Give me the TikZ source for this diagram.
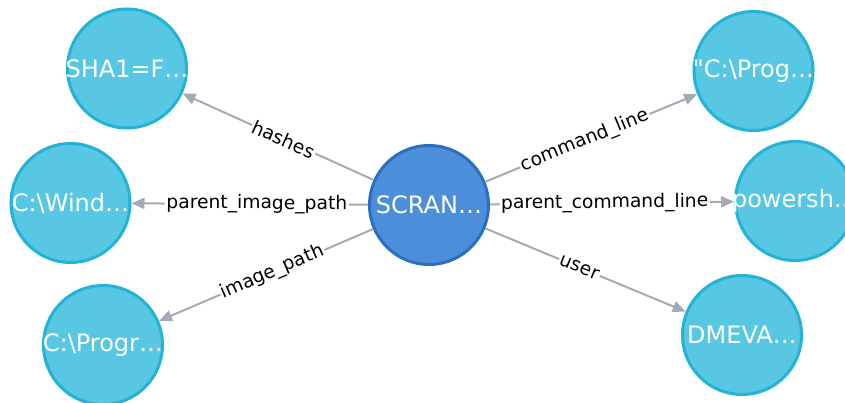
\documentclass[tikz,border=0pt]{standalone}
\usepackage{fontspec}
\setmainfont{DejaVu Sans}[Ligatures=TeXOff]
\usetikzlibrary{arrows.meta}
\definecolor{hubfill}{HTML}{4C8EDA}
\definecolor{hubline}{HTML}{2870C2}
\definecolor{leaffill}{HTML}{57C7E3}
\definecolor{leafline}{HTML}{23B3D7}
\definecolor{edgecol}{HTML}{A5ABB6}
\newcommand{\ctrtext}[1]{\makebox[0pt][c]{#1}}
\tikzset{
  basenode/.style={circle, line width=3pt, minimum size=119pt, inner sep=0pt, text=white, font=\fontsize{24}{25}\selectfont},
  hubnode/.style={basenode, fill=hubfill, draw=hubline},
  leafnode/.style={basenode, fill=leaffill, draw=leafline},
  edgeline/.style={draw=edgecol, line width=2pt, -{Triangle[length=13pt,width=11pt]}},
  lbl/.style={sloped, pos=0.47, fill=white, inner sep=1.5pt, text=black, font=\fontsize{18.7}{19}\selectfont}
}
\begin{document}
\begin{tikzpicture}[x=1pt,y=-1pt]
\useasboundingbox (0,0) rectangle (845,403);
\node[hubnode] (c) at (429,205) {\ctrtext{SCRAN…}};
\node[leafnode] (sha) at (127,68.5) {\ctrtext{SHA1=F…}};
\node[leafnode] (win) at (70.5,203) {\ctrtext{C:\textbackslash Wind…}};
\node[leafnode] (prg) at (103,345) {\ctrtext{C:\textbackslash Progr…}};
\node[leafnode] (cmd) at (753.5,71) {\ctrtext{"C:\textbackslash Prog…}};
\node[leafnode] (pws) at (795,201) {\ctrtext{powersh…}};
\node[leafnode] (usr) at (742,335) {\ctrtext{DMEVA…}};
\draw[edgeline] (c) -- node[lbl]{hashes} (sha);
\draw[edgeline] (c) -- node[lbl]{parent\_image\_path} (win);
\draw[edgeline] (c) -- node[lbl]{image\_path} (prg);
\draw[edgeline] (c) -- node[lbl]{command\_line} (cmd);
\draw[edgeline] (c) -- node[lbl]{parent\_command\_line} (pws);
\draw[edgeline] (c) -- node[lbl]{user} (usr);
\end{tikzpicture}
\end{document}
